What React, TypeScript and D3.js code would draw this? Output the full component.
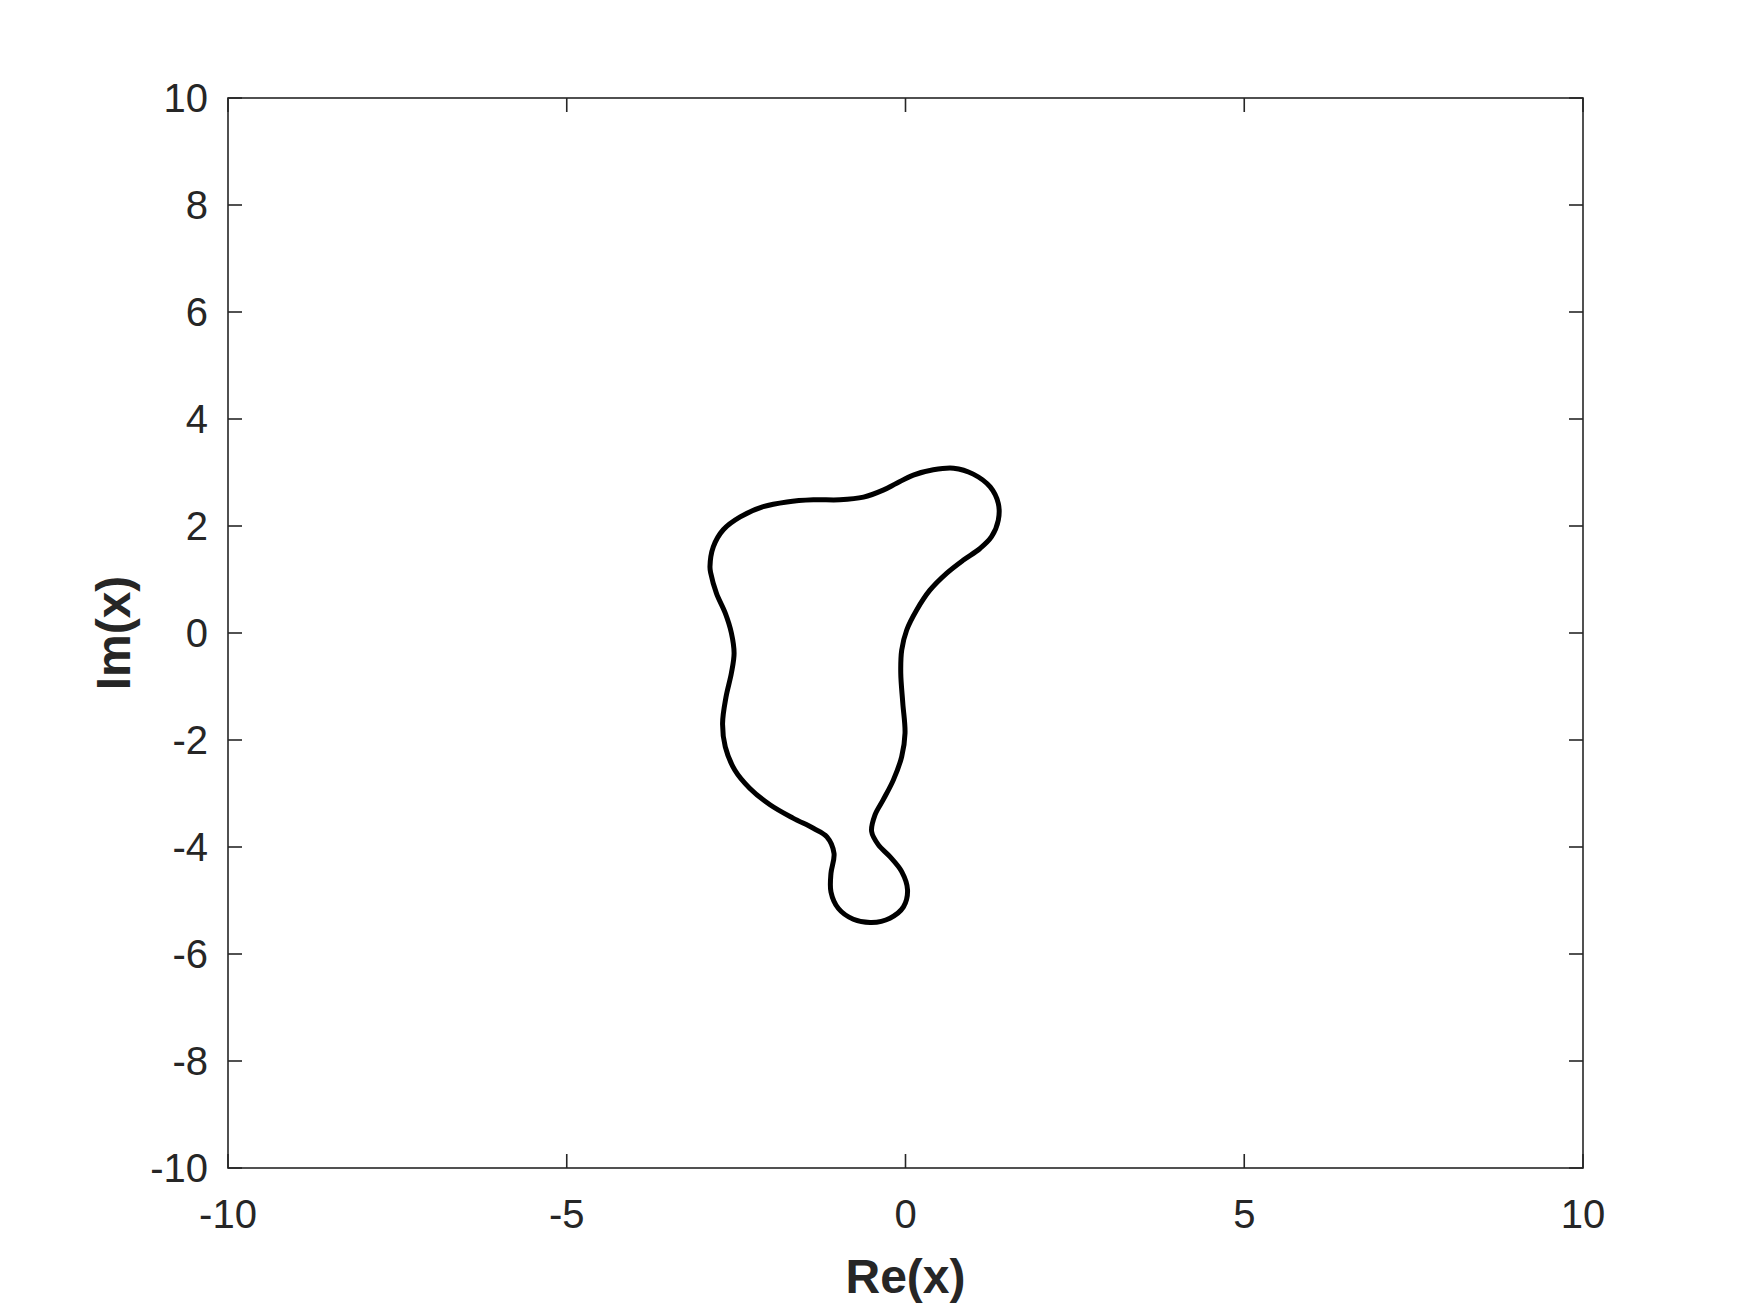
import React from "react";
import * as d3 from "d3";

const reVals = [
  -2.886, -2.837, -2.69, -2.44, -2.1, -1.75, -1.36, -0.97, -0.62, -0.33, -0.13, 0.115, 0.41, 0.71,
  1.0, 1.25, 1.37, 1.37, 1.27, 1.1, 0.85, 0.61, 0.36, 0.165, 0.018, -0.056, -0.07, -0.04, -0.007,
  -0.056, -0.18, -0.33, -0.45, -0.5, -0.4, -0.23, -0.056, 0.03, -0.03, -0.23, -0.5, -0.77, -0.99,
  -1.1, -1.1, -1.055, -1.16, -1.36, -1.66, -2.0, -2.3, -2.52, -2.66, -2.7, -2.65, -2.57, -2.53,
  -2.57, -2.66, -2.79, -2.875,
];
const imVals = [
  1.24, 1.61, 1.93, 2.17, 2.36, 2.45, 2.49, 2.49, 2.54, 2.67, 2.8, 2.95, 3.05, 3.08,
  2.97, 2.73, 2.42, 2.11, 1.8, 1.58, 1.36, 1.12, 0.8, 0.43, 0.056, -0.32, -0.75, -1.31, -1.87,
  -2.31, -2.75, -3.12, -3.4, -3.71, -3.96, -4.18, -4.46, -4.8, -5.12, -5.33, -5.41, -5.35, -5.15,
  -4.84, -4.49, -4.12, -3.81, -3.65, -3.46, -3.21, -2.9, -2.56, -2.13, -1.69, -1.2, -0.75, -0.38,
  0.0, 0.37, 0.74, 1.12,
];
const xTicks = [-10, -5, 0, 5, 10];
const yTicks = [-10, -8, -6, -4, -2, 0, 2, 4, 6, 8, 10];
const xLabel = "Re(x)";
const yLabel = "Im(x)";

export default function App() {
  const W = 1750, H = 1313;
  const left = 228, right = 1583, top = 98, bottom = 1168;
  const x = d3.scaleLinear().domain([-10, 10]).range([left, right]);
  const y = d3.scaleLinear().domain([-10, 10]).range([bottom, top]);
  const pts: [number, number][] = reVals.map((r, i) => [r, imVals[i]]);
  const line = d3
    .line<[number, number]>()
    .x((d) => x(d[0]))
    .y((d) => y(d[1]))
    .curve(d3.curveCatmullRomClosed.alpha(0.5));
  const ax = "#262626";
  const font = "'Liberation Sans', Arial, Helvetica, sans-serif";
  const tl = 14;
  return (
    <svg width={W} height={H} style={{ position: "absolute", left: 0, top: 0, background: "#fff" }}>
      <rect x={0} y={0} width={W} height={H} fill="#fff" />
      <path d={line(pts) || ""} fill="none" stroke="#000" strokeWidth={5} strokeLinejoin="round" />
      <rect x={left} y={top} width={right - left} height={bottom - top} fill="none" stroke={ax} strokeWidth={1.6} />
      {xTicks.map((t) => (
        <g key={"x" + t}>
          <line x1={x(t)} x2={x(t)} y1={bottom} y2={bottom - tl} stroke={ax} strokeWidth={1.6} />
          <line x1={x(t)} x2={x(t)} y1={top} y2={top + tl} stroke={ax} strokeWidth={1.6} />
          <text x={x(t)} y={1228} textAnchor="middle" fontFamily={font} fontSize={40} fill={ax}>
            {t}
          </text>
        </g>
      ))}
      {yTicks.map((t) => (
        <g key={"y" + t}>
          <line x1={left} x2={left + tl} y1={y(t)} y2={y(t)} stroke={ax} strokeWidth={1.6} />
          <line x1={right} x2={right - tl} y1={y(t)} y2={y(t)} stroke={ax} strokeWidth={1.6} />
          <text x={208} y={y(t)} dy="0.36em" textAnchor="end" fontFamily={font} fontSize={40} fill={ax}>
            {t}
          </text>
        </g>
      ))}
      <text x={(left + right) / 2} y={1293} textAnchor="middle" fontFamily={font} fontSize={48} fontWeight="bold" fill={ax}>
        {xLabel}
      </text>
      <text
        transform={`translate(130, ${(top + bottom) / 2}) rotate(-90)`}
        textAnchor="middle"
        fontFamily={font}
        fontSize={48}
        fontWeight="bold"
        fill={ax}
      >
        {yLabel}
      </text>
    </svg>
  );
}
